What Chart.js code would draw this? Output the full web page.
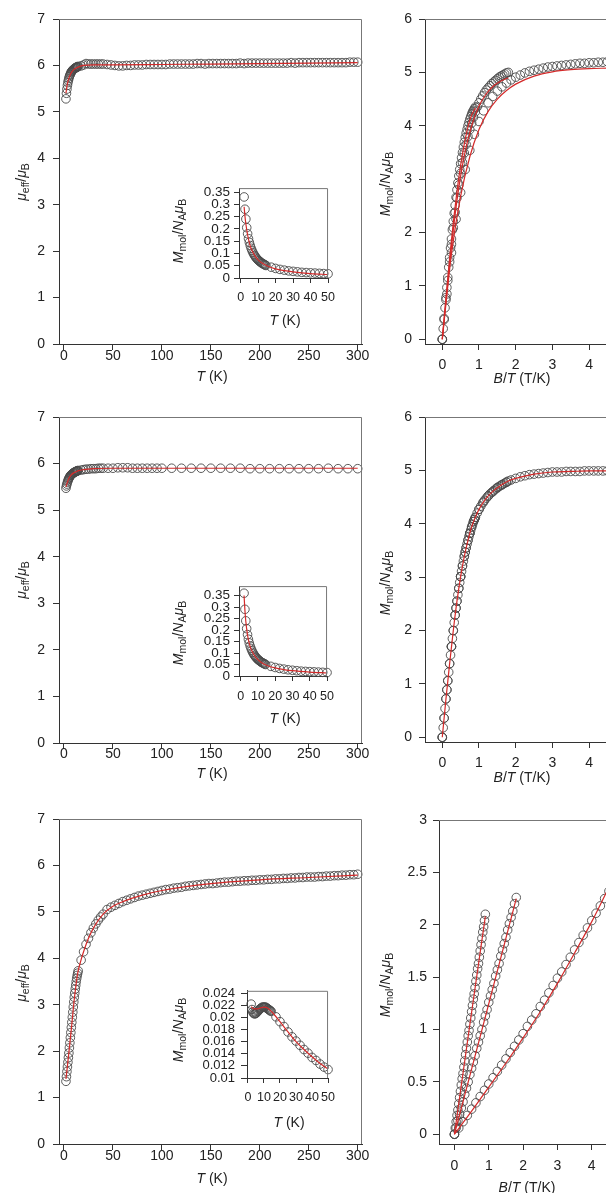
<!DOCTYPE html>
<html>
<head>
<meta charset="utf-8">
<script src="https://cdn.jsdelivr.net/npm/chart.js"></script>
<style>
html, body { margin: 0; padding: 0; background: #fff; overflow: hidden; }
#fig { position: relative; width: 606px; height: 1193px; overflow: hidden; }
#fig canvas { position: absolute; }
.lab { position: absolute; z-index: 2; font: 14px "Liberation Sans", Arial, sans-serif; color: #222; white-space: nowrap; transform: translate(-50%, -50%); }
.rot { transform: translate(-50%, -50%) rotate(-90deg); }
.lab sub { font-size: 75%; vertical-align: -0.25em; line-height: 0; }
</style>
</head>
<body>
<div id="fig">
  <!-- axis titles -->
  <div class="lab rot" style="left:21px;top:182px"><i>μ</i><sub>eff</sub>/<i>μ</i><sub>B</sub></div>
  <div class="lab rot" style="left:21px;top:580px"><i>μ</i><sub>eff</sub>/<i>μ</i><sub>B</sub></div>
  <div class="lab rot" style="left:21px;top:983px"><i>μ</i><sub>eff</sub>/<i>μ</i><sub>B</sub></div>
  <div class="lab" style="left:212px;top:376px"><i>T</i> (K)</div>
  <div class="lab" style="left:212px;top:773px"><i>T</i> (K)</div>
  <div class="lab" style="left:212px;top:1178px"><i>T</i> (K)</div>
  <div class="lab rot" style="left:385px;top:184px"><i>M</i><sub>mol</sub>/<i>N</i><sub>A</sub><i>μ</i><sub>B</sub></div>
  <div class="lab rot" style="left:385px;top:583px"><i>M</i><sub>mol</sub>/<i>N</i><sub>A</sub><i>μ</i><sub>B</sub></div>
  <div class="lab rot" style="left:385px;top:985px"><i>M</i><sub>mol</sub>/<i>N</i><sub>A</sub><i>μ</i><sub>B</sub></div>
  <div class="lab" style="left:522px;top:378px"><i>B</i>/<i>T</i> (T/K)</div>
  <div class="lab" style="left:522px;top:777px"><i>B</i>/<i>T</i> (T/K)</div>
  <div class="lab" style="left:527px;top:1187px"><i>B</i>/<i>T</i> (T/K)</div>
  <div class="lab rot" style="left:178px;top:231px"><i>M</i><sub>mol</sub>/<i>N</i><sub>A</sub><i>μ</i><sub>B</sub></div>
  <div class="lab rot" style="left:178px;top:633px"><i>M</i><sub>mol</sub>/<i>N</i><sub>A</sub><i>μ</i><sub>B</sub></div>
  <div class="lab rot" style="left:178px;top:1030px"><i>M</i><sub>mol</sub>/<i>N</i><sub>A</sub><i>μ</i><sub>B</sub></div>
  <div class="lab" style="left:285px;top:320px"><i>T</i> (K)</div>
  <div class="lab" style="left:285px;top:718px"><i>T</i> (K)</div>
  <div class="lab" style="left:289px;top:1122px"><i>T</i> (K)</div>
</div>
<script>
// ---- temperature grids (K)
var tLow = [2, 2.5, 3, 3.5, 4, 4.5, 5, 5.5, 6, 6.5, 7, 7.5, 8, 8.5, 9, 9.5, 10, 10.5, 11, 11.5, 12, 12.5, 13, 13.5, 14, 14.5];
var tMid = [17.5, 20, 22.5, 25, 27.5, 30, 32.5, 35, 37.5, 40];
var tChain = [44, 48, 52, 56, 60, 64, 68, 72, 76, 80, 84, 88, 92, 96, 100,
  104, 108, 112, 116, 120, 124, 128, 132, 136, 140, 144, 148,
  152, 156, 160, 164, 168, 172, 176, 180, 184, 188, 192, 196, 200,
  204, 208, 212, 216, 220, 224, 228, 232, 236, 240, 244, 248, 252,
  256, 260, 264, 268, 272, 276, 280, 284, 288, 292, 296, 300];
var tSparse = [45, 50, 55, 60, 65, 70, 75, 80, 85, 90, 95, 100,
  110, 120, 130, 140, 150, 160, 170, 180, 190, 200, 210, 220, 230, 240, 250, 260, 270, 280, 290, 300];
var tInsetEnd = [42.5, 45, 47.5, 50];

var tempA = tLow.concat(tMid, tChain);    // panels 1 and 3
var tempB = tLow.concat(tMid, tSparse);   // panel 2
var tempIn = tLow.concat(tMid, tInsetEnd); // insets

// ---- mu_eff / mu_B
var muPanel1 = [5.28, 5.40, 5.49, 5.57, 5.63, 5.68, 5.72, 5.76, 5.79, 5.81, 5.84, 5.86, 5.87, 5.89, 5.90, 5.91, 5.92, 5.93, 5.94, 5.94, 5.95, 5.96, 5.96, 5.97, 5.97, 5.98,
  5.99, 6.01, 6.04, 6.03, 6.03, 6.03, 6.03, 6.03, 6.03, 6.03,
  6.02, 6.01, 6.00, 5.99, 5.99, 6.00, 6.00, 6.01, 6.01, 6.01, 6.02, 6.02, 6.02, 6.02, 6.02,
  6.02, 6.03, 6.03, 6.03, 6.03, 6.03, 6.03, 6.03, 6.04, 6.04, 6.03, 6.04,
  6.04, 6.04, 6.04, 6.04, 6.04, 6.04, 6.04, 6.05, 6.04, 6.05, 6.05, 6.05, 6.05,
  6.05, 6.05, 6.05, 6.05, 6.05, 6.05, 6.05, 6.06, 6.05, 6.06, 6.06, 6.06, 6.06,
  6.06, 6.06, 6.06, 6.06, 6.06, 6.06, 6.06, 6.06, 6.06, 6.07, 6.07, 6.07];
var muPanel2 = [5.47, 5.52, 5.56, 5.60, 5.63, 5.66, 5.68, 5.70, 5.72, 5.74, 5.75, 5.76, 5.77, 5.78, 5.79, 5.80, 5.80, 5.81, 5.82, 5.82, 5.83, 5.83, 5.84, 5.84, 5.85, 5.85,
  5.86, 5.87, 5.88, 5.88, 5.89, 5.89, 5.89, 5.90, 5.90, 5.90,
  5.90, 5.90, 5.91, 5.91, 5.91, 5.90, 5.90, 5.90, 5.90, 5.90, 5.90, 5.90,
  5.90, 5.90, 5.90, 5.90, 5.90, 5.90, 5.90, 5.90, 5.89, 5.89, 5.89, 5.89, 5.89, 5.89, 5.89, 5.89, 5.90, 5.89, 5.89, 5.89];
var muPanel3 = [1.35, 1.45, 1.56, 1.66, 1.76, 1.86, 1.96, 2.07, 2.18, 2.29, 2.40, 2.51, 2.62, 2.73, 2.84, 2.95, 3.06, 3.16, 3.25, 3.34, 3.42, 3.50, 3.57, 3.63, 3.68, 3.73,
  3.96, 4.14, 4.30, 4.43, 4.55, 4.65, 4.74, 4.82, 4.89, 4.95,
  5.05, 5.10, 5.14, 5.18, 5.22, 5.25, 5.28, 5.31, 5.34, 5.36, 5.38, 5.40, 5.42, 5.44, 5.46,
  5.48, 5.49, 5.51, 5.52, 5.53, 5.55, 5.56, 5.57, 5.58, 5.59, 5.60, 5.61,
  5.61, 5.62, 5.63, 5.64, 5.64, 5.65, 5.66, 5.66, 5.67, 5.67, 5.68, 5.68, 5.69,
  5.69, 5.70, 5.70, 5.71, 5.71, 5.72, 5.72, 5.73, 5.73, 5.74, 5.74, 5.75, 5.75,
  5.75, 5.76, 5.76, 5.77, 5.77, 5.78, 5.78, 5.79, 5.79, 5.80, 5.80, 5.81];

// fitted curves (red)
var fitT1 = [2, 3, 4, 5, 6, 8, 10, 12, 15, 20, 30, 50, 100, 150, 200, 250, 300];
var fitMu1 = [5.40, 5.55, 5.65, 5.72, 5.78, 5.86, 5.91, 5.94, 5.97, 6.00, 6.01, 6.01, 6.02, 6.03, 6.04, 6.05, 6.06];
var fitT2 = [2, 3, 4, 5, 6, 8, 10, 12, 15, 20, 30, 50, 100, 300];
var fitMu2 = [5.50, 5.57, 5.63, 5.68, 5.72, 5.77, 5.80, 5.82, 5.85, 5.87, 5.89, 5.90, 5.90, 5.90];
var fitT3 = [2, 3, 4, 5, 6, 8, 10, 12, 14, 17.5, 20, 25, 30, 40, 50, 60, 80, 100, 150, 200, 250, 300];
var fitMu3 = [1.40, 1.58, 1.78, 1.97, 2.17, 2.58, 3.02, 3.38, 3.68, 3.97, 4.14, 4.43, 4.65, 4.95, 5.12, 5.22, 5.36, 5.46, 5.61, 5.69, 5.74, 5.79];

// ---- insets: M_mol / N_A mu_B versus T
var mIn1 = [0.33, 0.28, 0.24, 0.205, 0.18, 0.16, 0.145, 0.132, 0.121, 0.112, 0.104, 0.097, 0.091, 0.086, 0.081, 0.077, 0.073, 0.070, 0.067, 0.064, 0.061, 0.059, 0.057, 0.055, 0.053, 0.051,
  0.044, 0.039, 0.035, 0.032, 0.029, 0.027, 0.025, 0.023, 0.022, 0.021, 0.020, 0.019, 0.018, 0.017];
var mIn2 = [0.36, 0.29, 0.24, 0.206, 0.18, 0.16, 0.144, 0.131, 0.12, 0.111, 0.103, 0.096, 0.09, 0.085, 0.08, 0.076, 0.072, 0.069, 0.066, 0.063, 0.06, 0.058, 0.056, 0.054, 0.052, 0.05,
  0.042, 0.037, 0.033, 0.030, 0.027, 0.025, 0.023, 0.021, 0.020, 0.019, 0.018, 0.017, 0.016, 0.015];
var mIn3 = [0.0222, 0.0213, 0.0209, 0.0207, 0.0206, 0.0206, 0.0207, 0.0208, 0.0210, 0.0211, 0.0213, 0.0214, 0.0215, 0.0216, 0.0217, 0.0217, 0.0217, 0.0217, 0.0217, 0.0216, 0.0215, 0.0214, 0.0213, 0.0212, 0.0211, 0.0210,
  0.0201, 0.0193, 0.0185, 0.0176, 0.0168, 0.0161, 0.0154, 0.0147, 0.0141, 0.0134, 0.0129, 0.0123, 0.0118, 0.0114];
var fitTIn = [2, 2.5, 3, 4, 5, 6, 8, 10, 12, 15, 20, 25, 30, 40, 50];
var fitIn1 = [0.29, 0.25, 0.22, 0.175, 0.143, 0.12, 0.092, 0.074, 0.062, 0.05, 0.037, 0.03, 0.025, 0.018, 0.014];
var fitIn2 = [0.35, 0.285, 0.238, 0.178, 0.142, 0.118, 0.089, 0.071, 0.059, 0.047, 0.035, 0.028, 0.023, 0.017, 0.013];
var fitTIn3 = [2, 3, 4, 5, 6, 8, 10, 12, 15, 20, 25, 30, 35, 40, 45, 50];
var fitIn3 = [0.0218, 0.0215, 0.0214, 0.0214, 0.0214, 0.0216, 0.0217, 0.0216, 0.0209, 0.0193, 0.0176, 0.0160, 0.0147, 0.0135, 0.0124, 0.0115];

// ---- reduced magnetisation, B/T (T/K), isotherms 10 K, 5 K, 2 K
var bt10 = [0, 0.025, 0.05, 0.075, 0.1, 0.125, 0.15, 0.175, 0.2, 0.225, 0.25, 0.275, 0.3, 0.325, 0.35, 0.375, 0.4, 0.425, 0.45, 0.475, 0.5, 0.525, 0.55, 0.575, 0.6, 0.625, 0.65, 0.675, 0.7, 0.725, 0.75, 0.775, 0.8, 0.825, 0.85, 0.875, 0.9];
var bt5 = [0, 0.05, 0.1, 0.15, 0.2, 0.25, 0.3, 0.35, 0.4, 0.45, 0.5, 0.55, 0.6, 0.65, 0.7, 0.75, 0.8, 0.85, 0.9, 0.95, 1, 1.05, 1.1, 1.15, 1.2, 1.25, 1.3, 1.35, 1.4, 1.45, 1.5, 1.55, 1.6, 1.65, 1.7, 1.75, 1.8];
var bt2 = [0, 0.125, 0.25, 0.375, 0.5, 0.625, 0.75, 0.875, 1, 1.125, 1.25, 1.375, 1.5, 1.625, 1.75, 1.875, 2, 2.125, 2.25, 2.375, 2.5, 2.625, 2.75, 2.875, 3, 3.125, 3.25, 3.375, 3.5, 3.625, 3.75, 3.875, 4, 4.125, 4.25, 4.375, 4.5];

var mA10 = [0, 0.20, 0.39, 0.59, 0.78, 0.97, 1.16, 1.35, 1.53, 1.71, 1.88, 2.05, 2.21, 2.36, 2.51, 2.66, 2.80, 2.93, 3.06, 3.18, 3.29, 3.40, 3.50, 3.60, 3.69, 3.78, 3.86, 3.93, 4.00, 4.06, 4.12, 4.17, 4.22, 4.26, 4.29, 4.32, 4.35];
var mA5 = [0, 0.37, 0.74, 1.10, 1.45, 1.78, 2.09, 2.38, 2.65, 2.89, 3.11, 3.31, 3.49, 3.65, 3.80, 3.93, 4.05, 4.16, 4.26, 4.35, 4.43, 4.50, 4.56, 4.62, 4.67, 4.71, 4.75, 4.79, 4.82, 4.85, 4.88, 4.91, 4.93, 4.95, 4.97, 4.99, 5.00];
var mA2 = [0, 0.85, 1.62, 2.25, 2.75, 3.18, 3.54, 3.84, 4.08, 4.28, 4.43, 4.55, 4.65, 4.73, 4.80, 4.86, 4.91, 4.95, 4.99, 5.02, 5.04, 5.06, 5.08, 5.10, 5.11, 5.12, 5.13, 5.14, 5.15, 5.16, 5.17, 5.17, 5.18, 5.18, 5.19, 5.19, 5.20];
var fitBtA10 = [0, 0.1, 0.2, 0.3, 0.4, 0.5, 0.6, 0.7, 0.8, 0.9];
var fitA10 = [0, 0.78, 1.52, 2.19, 2.77, 3.26, 3.66, 3.98, 4.20, 4.33];
var fitBtA5 = [0, 0.2, 0.4, 0.6, 0.8, 1.0, 1.2, 1.4, 1.6, 1.8];
var fitA5 = [0, 1.42, 2.60, 3.44, 4.00, 4.37, 4.60, 4.75, 4.84, 4.90];
var fitBtA2 = [0, 0.25, 0.5, 0.75, 1, 1.25, 1.5, 1.75, 2, 2.5, 3, 3.5, 4, 4.5];
var fitA2 = [0, 1.60, 2.68, 3.42, 3.93, 4.27, 4.50, 4.66, 4.78, 4.93, 5.01, 5.05, 5.07, 5.08];

var mB10 = [0, 0.18, 0.36, 0.54, 0.72, 0.89, 1.06, 1.22, 1.38, 1.54, 1.70, 1.85, 2.00, 2.15, 2.29, 2.42, 2.55, 2.67, 2.79, 2.90, 3.01, 3.11, 3.21, 3.30, 3.39, 3.47, 3.55, 3.62, 3.69, 3.76, 3.82, 3.88, 3.94, 3.99, 4.04, 4.08, 4.12];
var mB5 = [0, 0.36, 0.72, 1.06, 1.38, 1.70, 2.00, 2.29, 2.55, 2.79, 3.01, 3.21, 3.39, 3.55, 3.69, 3.82, 3.94, 4.04, 4.12, 4.20, 4.27, 4.33, 4.39, 4.44, 4.48, 4.52, 4.56, 4.59, 4.62, 4.65, 4.68, 4.70, 4.72, 4.74, 4.76, 4.78, 4.80];
var mB2 = [0, 0.89, 1.70, 2.42, 3.01, 3.47, 3.82, 4.08, 4.27, 4.41, 4.52, 4.60, 4.67, 4.73, 4.78, 4.82, 4.85, 4.88, 4.90, 4.92, 4.93, 4.94, 4.95, 4.96, 4.97, 4.97, 4.97, 4.98, 4.98, 4.98, 4.98, 4.99, 4.99, 4.99, 4.99, 4.99, 4.99];
var fitBtB = [0, 0.1, 0.2, 0.3, 0.4, 0.5, 0.6, 0.7, 0.8, 0.9, 1.0, 1.2, 1.4, 1.6, 1.8, 2.0, 2.5, 3, 3.5, 4, 4.5, 5];
var fitB = [0, 0.72, 1.38, 2.00, 2.55, 3.01, 3.39, 3.69, 3.94, 4.12, 4.27, 4.48, 4.62, 4.72, 4.80, 4.85, 4.93, 4.97, 4.98, 4.99, 4.99, 4.99];

var mC10 = [0, 0.06, 0.12, 0.18, 0.23, 0.29, 0.35, 0.41, 0.47, 0.53, 0.58, 0.64, 0.70, 0.76, 0.82, 0.88, 0.94, 0.99, 1.05, 1.11, 1.17, 1.23, 1.29, 1.34, 1.40, 1.46, 1.52, 1.58, 1.63, 1.69, 1.75, 1.81, 1.87, 1.93, 1.98, 2.04, 2.10];
var mC5 = [0, 0.06, 0.13, 0.19, 0.25, 0.31, 0.38, 0.44, 0.50, 0.57, 0.63, 0.69, 0.75, 0.82, 0.88, 0.94, 1.00, 1.07, 1.13, 1.19, 1.26, 1.32, 1.38, 1.44, 1.51, 1.57, 1.63, 1.70, 1.76, 1.82, 1.88, 1.95, 2.01, 2.07, 2.13, 2.20, 2.26];
var mC2 = [0, 0.06, 0.12, 0.18, 0.24, 0.30, 0.36, 0.42, 0.48, 0.54, 0.60, 0.66, 0.72, 0.78, 0.84, 0.90, 0.96, 1.03, 1.09, 1.15, 1.22, 1.28, 1.35, 1.42, 1.49, 1.55, 1.62, 1.69, 1.76, 1.83, 1.90, 1.97, 2.04, 2.11, 2.18, 2.25, 2.32];
var fitBtC10 = [0, 0.45, 0.9];
var fitC10 = [0, 1.05, 2.08];
var fitBtC5 = [0, 0.9, 1.8];
var fitC5 = [0, 1.12, 2.25];
var fitBtC2 = [0, 0.5, 1, 1.5, 2, 2.5, 3, 3.5, 4, 4.5, 5];
var fitC2 = [0, 0.22, 0.45, 0.68, 0.92, 1.17, 1.44, 1.73, 2.03, 2.36, 2.70];

// ---- tick labels
var tTicks = [0, 50, 100, 150, 200, 250, 300];
var muTicks = [0, 1, 2, 3, 4, 5, 6, 7];
var btTicks = [0, 1, 2, 3, 4, 5];
var mTicks6 = [0, 1, 2, 3, 4, 5, 6];
var mTicks3 = [0, 0.5, 1, 1.5, 2, 2.5, 3];
var tInTicks = [0, 10, 20, 30, 40, 50];
var mInTicks = [0, 0.05, 0.1, 0.15, 0.2, 0.25, 0.3, 0.35];
var mInTicks3 = [0.01, 0.012, 0.014, 0.016, 0.018, 0.02, 0.022, 0.024];

Chart.defaults.font.family = '"Liberation Sans", Arial, sans-serif';
Chart.defaults.font.size = 14;

var fig = document.getElementById('fig');

function pts(xs, ys) {
  return xs.map(function (x, i) { return { x: x, y: ys[i] }; });
}

// open grey circles for the measured points
function circles(xs, ys) {
  return {
    data: pts(xs, ys), showLine: false, pointStyle: 'circle', pointRadius: 4.3,
    pointBorderWidth: 0.9, pointBorderColor: '#4a4a4a', pointBackgroundColor: 'rgba(0,0,0,0)',
    clip: false, order: 2
  };
}

// red fitted line
function fit(xs, ys) {
  return {
    data: pts(xs, ys), showLine: true, borderColor: '#d42a2a', borderWidth: 1.2,
    pointRadius: 0, cubicInterpolationMode: 'monotone', clip: false, order: 1
  };
}

// light frame on top and right of the plot box
var frame = {
  id: 'frame',
  afterDraw: function (chart) {
    var a = chart.chartArea, ctx = chart.ctx;
    ctx.save();
    ctx.strokeStyle = '#777';
    ctx.lineWidth = 1;
    ctx.beginPath();
    ctx.moveTo(a.left, a.top + 0.5);
    ctx.lineTo(a.right - 0.5, a.top + 0.5);
    ctx.lineTo(a.right - 0.5, a.bottom);
    ctx.stroke();
    ctx.restore();
  }
};

function axis(a, afterFit) {
  return {
    type: 'linear', min: a.min, max: a.max,
    afterFit: afterFit,
    afterBuildTicks: function (s) { s.ticks = a.ticks.map(function (v) { return { value: v }; }); },
    grid: { drawOnChartArea: false, drawTicks: true, tickLength: a.tl, color: '#333', lineWidth: 1 },
    border: { display: true, color: '#333', width: 1 },
    ticks: { padding: a.pad, color: '#222', autoSkip: false, maxRotation: 0, font: { size: a.fs || 14 },
      callback: function (v) { return String(v); } }
  };
}

// rect = canvas [x, y, w, h]; box = plot area [left, top, right, bottom] in page pixels
function makePanel(rect, box, xa, ya, datasets) {
  var c = document.createElement('canvas');
  c.width = rect[2];
  c.height = rect[3];
  c.style.left = rect[0] + 'px';
  c.style.top = rect[1] + 'px';
  fig.appendChild(c);
  return new Chart(c.getContext('2d'), {
    type: 'scatter',
    data: { datasets: datasets },
    options: {
      responsive: false, animation: false, events: [],
      layout: { autoPadding: false, padding: { left: 0, top: box[1] - rect[1], right: rect[0] + rect[2] - box[2], bottom: 0 } },
      plugins: { legend: { display: false }, tooltip: { enabled: false } },
      scales: {
        x: axis(xa, function (s) { s.height = rect[1] + rect[3] - box[3]; }),
        y: axis(ya, function (s) { s.width = box[0] - rect[0]; })
      }
    },
    plugins: [frame]
  });
}

// left column: mu_eff vs T
makePanel([0, 0, 376, 372], [59, 19, 362, 344], { min: -5.1, max: 304.4, ticks: tTicks, tl: 6, pad: -2 },
  { min: 0, max: 7, ticks: muTicks, tl: 6, pad: 8 },
  [fit(fitT1, fitMu1), circles(tempA, muPanel1)]);
makePanel([0, 398, 376, 372], [59, 417, 362, 743], { min: -5.1, max: 304.4, ticks: tTicks, tl: 6, pad: -3 },
  { min: 0, max: 7, ticks: muTicks, tl: 6, pad: 8 },
  [fit(fitT2, fitMu2), circles(tempB, muPanel2)]);
makePanel([0, 800, 376, 372], [59, 819, 362, 1144], { min: -5.1, max: 304.4, ticks: tTicks, tl: 6, pad: -2 },
  { min: 0, max: 7, ticks: muTicks, tl: 6, pad: 8 },
  [fit(fitT3, fitMu3), circles(tempA, muPanel3)]);

// insets
makePanel([185, 176, 157, 130], [239, 188, 332, 278], { min: -0.93, max: 50, ticks: tInTicks, tl: 5, pad: 7, fs: 12.5 },
  { min: 0, max: 0.366, ticks: mInTicks, tl: 5, pad: 4, fs: 13.5 },
  [fit(fitTIn, fitIn1), circles(tempIn, mIn1)]);
makePanel([185, 574, 157, 130], [239, 586, 332, 676], { min: -0.93, max: 50, ticks: tInTicks, tl: 5, pad: 8, fs: 12.5 },
  { min: 0, max: 0.391, ticks: mInTicks, tl: 5, pad: 4, fs: 13.5 },
  [fit(fitTIn, fitIn2), circles(tempIn, mIn2)]);
makePanel([185, 977, 157, 130], [247, 989, 331, 1078], { min: -0.6, max: 50, ticks: tInTicks, tl: 5, pad: 7, fs: 12.5 },
  { min: 0.01, max: 0.0244, ticks: mInTicks3, tl: 6, pad: 6, fs: 13 },
  [fit(fitTIn3, fitIn3), circles(tempIn, mIn3)]);

// right column: M vs B/T
makePanel([374, 0, 290, 372], [425, 19, 640, 344], { min: -0.471, max: 5.387, ticks: btTicks, tl: 6, pad: 7 },
  { min: -0.088, max: 6, ticks: mTicks6, tl: 6, pad: 7 },
  [fit(fitBtA10, fitA10), fit(fitBtA5, fitA5), fit(fitBtA2, fitA2),
   circles(bt10, mA10), circles(bt5, mA5), circles(bt2, mA2)]);
makePanel([374, 398, 290, 372], [425, 417, 640, 742], { min: -0.471, max: 5.387, ticks: btTicks, tl: 6, pad: 7 },
  { min: -0.088, max: 6, ticks: mTicks6, tl: 6, pad: 7 },
  [fit(fitBtB, fitB), circles(bt10, mB10), circles(bt5, mB5), circles(bt2, mB2)]);
makePanel([374, 800, 290, 380], [439, 820, 640, 1144], { min: -0.45, max: 5.405, ticks: btTicks, tl: 6, pad: 8 },
  { min: -0.093, max: 3, ticks: mTicks3, tl: 6, pad: 6 },
  [fit(fitBtC10, fitC10), fit(fitBtC5, fitC5), fit(fitBtC2, fitC2),
   circles(bt10, mC10), circles(bt5, mC5), circles(bt2, mC2)]);
</script>
</body>
</html>
